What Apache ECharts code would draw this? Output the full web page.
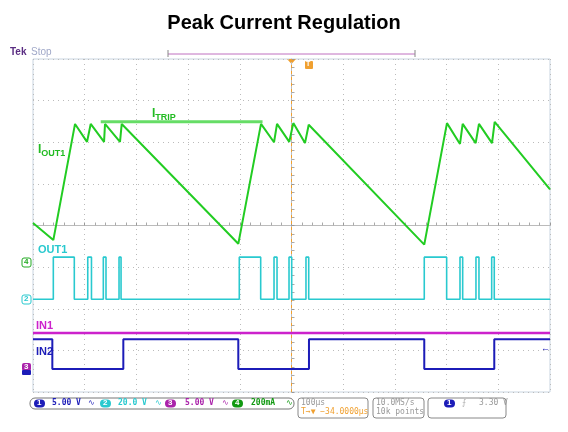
<!DOCTYPE html>
<html><head><meta charset="utf-8">
<script src="https://cdn.jsdelivr.net/npm/echarts@6/dist/echarts.min.js"></script>
<style>html,body{margin:0;padding:0;background:#fff}#c{width:568px;height:432px}</style>
</head><body><div id="c"></div>
<script>
// time in µs (100 µs/div), vertical in divisions
const iout1 = [[-500,0.06],[-460.7,-0.35],[-418.7,2.44],[-395.5,2.01],[-388.4,2.44],[-362.6,2.01],[-360.7,2.44],[-331.7,2.01],[-328.4,2.44],[-102.9,-0.44],[-59,2.44],[-33.8,2.0],[-28,2.44],[-4.3,2.01],[3.5,2.46],[26.1,1.98],[33.3,2.42],[256.8,-0.46],[300.7,2.46],[325.9,1.96],[331.1,2.44],[356.2,1.98],[362.6,2.44],[387.8,1.98],[393,2.49],[500,0.87]];
const itripLine = [[-369,2.49],[-56,2.49]];
const out1Edges = [-460.7,-420.1,-394.1,-386.9,-364,-358.8,-333.6,-329.7,-101,-59.6,-33.8,-28,-4.8,0.4,28,33.3,256.8,300.1,325.9,331.1,356.8,362.6,387.2,392.2];
const out1Low = -1.77, out1High = -0.76;
const in1Level = -2.58;
const in2Edges = [-462.6,-325.3,-102.9,33.8,256.8,392.2];
const in2High = -2.73, in2Low = -3.45;

function digital(edges, startLevel, other){
  const d=[[-500,startLevel]]; let lv=startLevel;
  edges.forEach(t=>{d.push([t,lv]); lv = (lv===startLevel?other:startLevel); d.push([t,lv]);});
  d.push([500,lv]); return d;
}
const out1 = digital(out1Edges, out1Low, out1High);
const in2 = digital(in2Edges, in2High, in2Low);
const in1 = [[-500,in1Level],[500,in1Level]];

const chart = echarts.init(document.getElementById('c'));
const ff='Liberation Sans, Arial, sans-serif';
const ls=(c,w)=>({color:c,width:w||1});
chart.setOption({
  animation:false,
  title:{text:'Peak Current Regulation',left:'center',top:8,textStyle:{fontFamily:ff,fontSize:20,fontWeight:'bold',color:'#000'}},
  grid:{left:33,right:18,top:59,bottom:40,show:true,borderColor:'#c8d4e0',borderWidth:1},
  xAxis:{type:'value',min:-500,max:500,interval:100,
    axisLine:{show:true,onZero:true,lineStyle:{color:'#bbbbbb'}},
    axisTick:{show:true,inside:true,length:3,lineStyle:{color:'#999'}},
    minorTick:{show:true,splitNumber:5,length:3,lineStyle:{color:'#aaa'}},
    axisLabel:{show:false},
    splitLine:{show:true,lineStyle:{color:'#bbbbbb',type:[1,4]}}},
  yAxis:{type:'value',min:-4,max:4,interval:1,
    axisLine:{show:true,onZero:true,lineStyle:{color:'#bbbbbb'}},
    axisTick:{show:true,inside:true,length:3,lineStyle:{color:'#999'}},
    minorTick:{show:true,splitNumber:5,length:3,lineStyle:{color:'#aaa'}},
    axisLabel:{show:false},
    splitLine:{show:true,lineStyle:{color:'#bbbbbb',type:[1,4]}}},
  series:[
    {type:'line',data:in1,symbol:'none',lineStyle:ls('#cc22cc',2.5)},
    {type:'line',data:in2,symbol:'none',lineStyle:ls('#1c1cb8',2)},
    {type:'line',data:out1,symbol:'none',lineStyle:ls('#29c9cf',1.6)},
    {type:'line',data:iout1,symbol:'none',lineStyle:ls('#22cc22',2)},
    {type:'line',data:itripLine,symbol:'none',lineStyle:ls('#66dd66',3)},
    {type:'line',data:[[0,-4],[0,4]],symbol:'none',lineStyle:{color:'#f0a030',width:1,type:[3,3]},z:1}
  ],
  graphic:[
    {type:'text',left:10,top:47,style:{text:'Tek',fill:'#5a2d82',font:'bold 10px '+ff}},
    {type:'text',left:31,top:47,style:{text:'Stop',fill:'#a0a8c8',font:'10px '+ff}},
    {type:'line',shape:{x1:168,y1:54,x2:415,y2:54},style:{stroke:'#c070c0',lineWidth:1}},
    {type:'line',shape:{x1:168,y1:50,x2:168,y2:57},style:{stroke:'#888',lineWidth:1}},
    {type:'line',shape:{x1:415,y1:50,x2:415,y2:57},style:{stroke:'#888',lineWidth:1}},
    {type:'polygon',shape:{points:[[287,59],[296,59],[291.5,64]]},style:{fill:'#f0a030'}},
    {type:'rect',shape:{x:305,y:61,width:8,height:8,r:1},style:{fill:'#f0a030'}},
    {type:'text',x:306,y:61,style:{text:'T',fill:'#fff',font:'bold 7px '+ff}},
    {type:'text',left:38,top:144,style:{rich:{a:{fill:'#22bb22',font:'bold 12px '+ff},b:{fill:'#22bb22',font:'bold 9px '+ff,padding:[7,0,0,0]}},text:'{a|I}{b|OUT1}'}},
    {type:'text',left:152,top:108,style:{rich:{a:{fill:'#22bb22',font:'bold 12px '+ff},b:{fill:'#22bb22',font:'bold 9px '+ff,padding:[7,0,0,0]}},text:'{a|I}{b|TRIP}'}},
    {type:'text',left:38,top:244,style:{text:'OUT1',fill:'#29c9cf',font:'bold 11px '+ff}},
    {type:'text',left:36,top:320,style:{text:'IN1',fill:'#cc22cc',font:'bold 11px '+ff}},
    {type:'text',left:36,top:346,style:{text:'IN2',fill:'#1c1cb8',font:'bold 11px '+ff}},
    {type:'rect',shape:{x:22,y:258,width:9,height:9,r:2},style:{fill:'#fff',stroke:'#22aa22'}},
    {type:'text',x:24,y:258,style:{text:'4',fill:'#22aa22',font:'bold 8px '+ff}},
    {type:'rect',shape:{x:22,y:295,width:9,height:9,r:2},style:{fill:'#fff',stroke:'#29c9cf'}},
    {type:'text',x:24,y:295,style:{text:'2',fill:'#29c9cf',font:'bold 8px '+ff}},
    {type:'rect',shape:{x:22,y:363,width:9,height:8,r:2},style:{fill:'#aa22aa'}},
    {type:'text',x:24,y:363,style:{text:'3',fill:'#fff',font:'bold 8px '+ff}},
    {type:'rect',shape:{x:22,y:370,width:9,height:5,r:1},style:{fill:'#1c1cb8'}},
    {type:'text',left:541,top:344,style:{text:'←',fill:'#1c1cb8',font:'bold 9px '+ff}},
    // status bar
    {type:'rect',shape:{x:30,y:398,width:264,height:11,r:5},style:{fill:'#fff',stroke:'#777'}},
    {type:'rect',shape:{x:34,y:399.5,width:11,height:8,r:4},style:{fill:'#1c1cb8'}},
    {type:'text',x:37,y:399,style:{text:'1',fill:'#fff',font:'bold 8px '+ff}},
    {type:'text',x:52,y:399,style:{text:'5.00 V',fill:'#1c1cb8',font:'bold 8px DejaVu Sans Mono'}},
    {type:'text',x:88,y:399,style:{text:'∿',fill:'#1c1cb8',font:'8px '+ff}},
    {type:'rect',shape:{x:100,y:399.5,width:11,height:8,r:4},style:{fill:'#29c9cf'}},
    {type:'text',x:103,y:399,style:{text:'2',fill:'#fff',font:'bold 8px '+ff}},
    {type:'text',x:118,y:399,style:{text:'20.0 V',fill:'#29c9cf',font:'bold 8px DejaVu Sans Mono'}},
    {type:'text',x:155,y:399,style:{text:'∿',fill:'#29c9cf',font:'8px '+ff}},
    {type:'rect',shape:{x:165,y:399.5,width:11,height:8,r:4},style:{fill:'#aa22aa'}},
    {type:'text',x:168,y:399,style:{text:'3',fill:'#fff',font:'bold 8px '+ff}},
    {type:'text',x:185,y:399,style:{text:'5.00 V',fill:'#aa22aa',font:'bold 8px DejaVu Sans Mono'}},
    {type:'text',x:222,y:399,style:{text:'∿',fill:'#aa22aa',font:'8px '+ff}},
    {type:'rect',shape:{x:232,y:399.5,width:11,height:8,r:4},style:{fill:'#119911'}},
    {type:'text',x:235,y:399,style:{text:'4',fill:'#fff',font:'bold 8px '+ff}},
    {type:'text',x:251,y:399,style:{text:'200mA',fill:'#119911',font:'bold 8px DejaVu Sans Mono'}},
    {type:'text',x:286,y:399,style:{text:'∿',fill:'#119911',font:'8px '+ff}},
    {type:'rect',shape:{x:298,y:398,width:70,height:20,r:3},style:{fill:'#fff',stroke:'#888'}},
    {type:'text',x:301,y:399,style:{text:'100µs',fill:'#999',font:'8px DejaVu Sans Mono'}},
    {type:'text',x:301,y:408,style:{text:'T→▼ −34.0000µs',fill:'#f0a030',font:'8px DejaVu Sans Mono'}},
    {type:'rect',shape:{x:373,y:398,width:51,height:20,r:3},style:{fill:'#fff',stroke:'#888'}},
    {type:'text',x:376,y:399,style:{text:'10.0MS/s',fill:'#999',font:'8px DejaVu Sans Mono'}},
    {type:'text',x:376,y:408,style:{text:'10k points',fill:'#999',font:'8px DejaVu Sans Mono'}},
    {type:'rect',shape:{x:428,y:398,width:78,height:20,r:3},style:{fill:'#fff',stroke:'#888'}},
    {type:'rect',shape:{x:444,y:399.5,width:11,height:8,r:4},style:{fill:'#1c1cb8'}},
    {type:'text',x:447,y:399,style:{text:'1',fill:'#fff',font:'bold 8px '+ff}},
    {type:'text',x:462,y:399,style:{text:'⨍',fill:'#aaa',font:'8px '+ff}},
    {type:'text',x:479,y:399,style:{text:'3.30 V',fill:'#999',font:'8px DejaVu Sans Mono'}}
  ]
});
</script></body></html>
